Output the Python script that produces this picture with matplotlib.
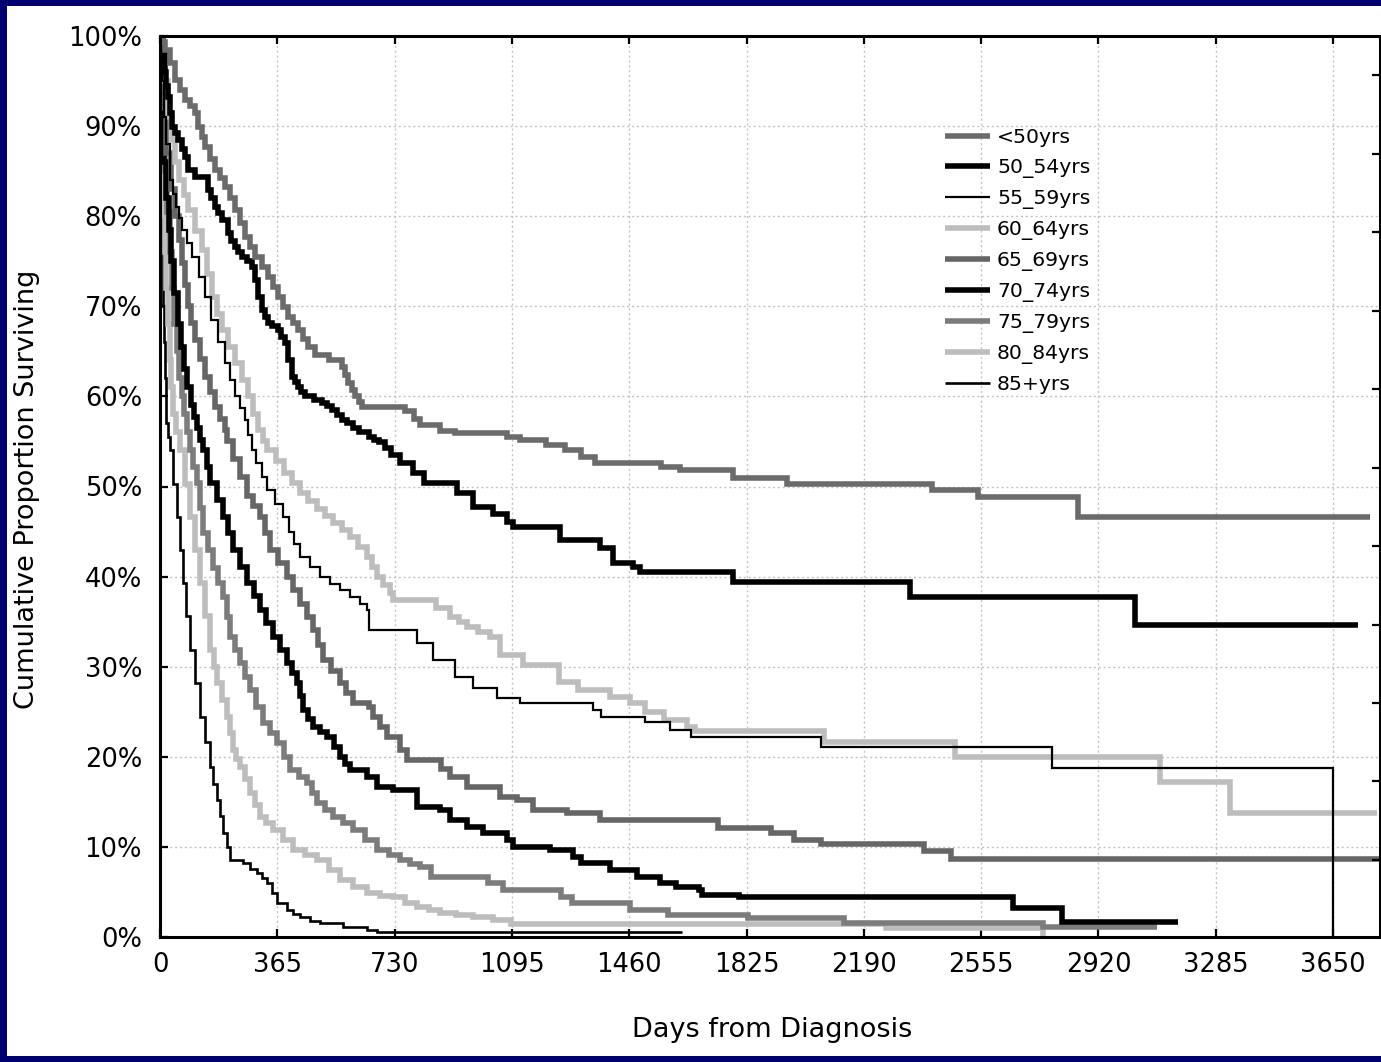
import matplotlib
matplotlib.use("Agg")
import matplotlib.pyplot as plt
from matplotlib.patches import Rectangle
from matplotlib.lines import Line2D

plt.rcParams['font.family'] = ['DejaVu Sans']

# ---------------- data (days, cumulative % surviving), step-post ----------------
labels = ["<50yrs", "50_54yrs", "55_59yrs", "60_64yrs", "65_69yrs",
          "70_74yrs", "75_79yrs", "80_84yrs", "85+yrs"]

lt50_days = [0, 8, 16, 30, 47, 62, 78, 94, 109, 118, 130, 140, 155, 171, 186, 202, 218, 233, 248, 264,
             280, 296, 316, 336, 352, 367, 382, 398, 414, 429, 445, 461, 482, 525, 566, 575, 585, 596,
             607, 618, 629, 762, 790, 809, 870, 918, 1080, 1120, 1200, 1260, 1310, 1353, 1560, 1618,
             1783, 1951, 2402, 2546, 2857, 3765]
lt50_pct = [100, 99.3, 98.5, 97, 95.1, 94, 92.9, 92.2, 91.5, 89.9, 88.8, 87.7, 86.4, 85.1, 84.2, 83.2,
            82, 80.7, 79.2, 77.7, 76.6, 75.5, 74.4, 73.3, 72.1, 71, 69.9, 68.8, 68.1, 67.4, 66.4, 65.5,
            64.6, 64, 63.3, 62.4, 61.5, 60.7, 60, 59.4, 58.8, 58.4, 57.5, 56.8, 56.2, 55.9, 55.5, 55.2,
            54.6, 54.0, 53.3, 52.6, 52.2, 51.8, 50.9, 50.3, 49.6, 48.8, 46.6, 46.6]

a50_days = [0, 8, 15, 20, 25, 31, 37, 47, 56, 67, 78, 87, 109, 149, 160, 171, 182, 193, 212, 222, 233,
            244, 255, 270, 286, 296, 305, 317, 326, 336, 350, 367, 378, 389, 398, 411, 420, 429, 440,
            451, 478, 504, 520, 535, 550, 566, 583, 600, 620, 650, 665, 680, 700, 720, 747, 788, 820,
            923, 975, 1037, 1079, 1099, 1245, 1369, 1410, 1473, 1494, 1783, 2334, 3034, 3728]
a50_pct = [100, 98, 96, 94.5, 93.2, 91.5, 89.9, 89.2, 88.5, 87.5, 86.6, 85.1, 84.4, 82.9, 82, 81, 80.3,
           79.6, 78.1, 77.3, 76.6, 76, 75.5, 75, 74.4, 72.9, 71, 69.6, 68.8, 68.1, 67.8, 67.4, 66.6,
           65.9, 64, 62.2, 61.6, 61, 60.5, 60, 59.6, 59.3, 58.9, 58.5, 57.9, 57.4, 57, 56.5, 56, 55.5,
           55.2, 54.9, 54.3, 53.5, 52.6, 51.5, 50.4, 49.3, 47.7, 47, 46.1, 45.5, 44.1, 43.2, 41.5,
           41.1, 40.5, 39.4, 37.7, 34.6, 34.6]

a55_days = [0, 6, 12, 20, 31, 40, 50, 60, 68, 84, 100, 120, 140, 160, 180, 202, 218, 233, 249, 264,
            275, 286, 300, 317, 333, 358, 383, 400, 418, 436, 467, 498, 530, 560, 591, 622, 644, 650,
            799, 850, 918, 975, 1048, 1120, 1348, 1372, 1509, 1587, 1652, 2057, 2776, 3650, 3650]
a55_pct = [100, 95, 91, 88, 84, 82.5, 81, 79.8, 78.5, 77, 75.5, 73.2, 71, 68.5, 66, 63.7, 61.8, 60,
           58.7, 57.4, 55.7, 54, 52.6, 51, 49.6, 48.1, 46.6, 45, 43.6, 42.2, 41.1, 40, 39.2, 38.5, 37.7,
           37, 36.3, 34.1, 32.6, 30.7, 28.9, 27.6, 26.5, 26, 25.2, 24.4, 23.9, 23, 22.2, 21.1, 18.8,
           0, 0]

a60_days = [0, 10, 25, 36, 47, 60, 75, 87, 109, 131, 146, 162, 178, 193, 213, 233, 254, 274, 290, 305,
            319, 333, 360, 385, 410, 436, 462, 487, 512, 538, 565, 591, 617, 644, 660, 675, 695, 716,
            725, 860, 902, 930, 955, 990, 1027, 1058, 1130, 1240, 1300, 1400, 1462, 1509, 1568, 1640,
            1665, 2067, 2474, 3112, 3330, 3787]
a60_pct = [100, 95, 91, 88.5, 86, 84, 82.3, 80.7, 78.4, 76.2, 73.6, 71, 69.2, 67.4, 65.5, 63.7, 61.8,
           60, 58.1, 56.3, 55.1, 54, 52.8, 51.5, 50.4, 49.3, 48.4, 47.5, 46.7, 46, 45.2, 44.4, 43.3,
           42.2, 41.1, 40, 39.1, 38.2, 37.4, 36.5, 35.5, 35, 34.4, 33.8, 33.3, 31.3, 30.2, 28.3, 27.4,
           26.6, 26, 25, 24.1, 23.3, 22.9, 21.6, 20, 17.2, 13.8, 13.8]

a65_days = [0, 8, 20, 35, 47, 58, 68, 78, 87, 98, 109, 124, 140, 156, 171, 187, 202, 208, 228, 249,
            270, 290, 311, 326, 342, 368, 395, 415, 436, 456, 476, 492, 507, 533, 560, 580, 601, 650,
            663, 685, 706, 747, 769, 875, 902, 955, 1058, 1111, 1161, 1266, 1369, 1736, 1901, 1973,
            2057, 2377, 2461, 3800]
a65_pct = [100, 92, 87, 83, 80, 77.4, 74.8, 72.4, 70, 68.1, 66.3, 64.2, 62.2, 60.5, 58.8, 57.5, 56.3,
           55, 53, 51, 49, 47.8, 46.6, 44.8, 43, 41.5, 40, 38.5, 37, 35.5, 34.1, 32.4, 30.7, 29.5, 28.2,
           27.1, 26, 25.5, 24.4, 23.3, 22.2, 20.8, 19.6, 18.7, 17.8, 16.6, 15.5, 15.2, 14.1, 13.8, 13,
           12.1, 11.5, 10.8, 10.3, 9.5, 8.7, 8.7]

a70_days = [0, 4, 8, 14, 20, 28, 35, 45, 55, 65, 75, 85, 95, 105, 115, 125, 134, 145, 156, 176, 196,
            212, 227, 249, 271, 291, 311, 331, 352, 373, 395, 411, 426, 436, 445, 461, 476, 498, 520,
            540, 560, 576, 591, 644, 675, 725, 800, 871, 902, 955, 1005, 1080, 1098, 1214, 1285, 1310,
            1400, 1484, 1556, 1606, 1677, 1687, 1802, 2654, 2807, 3168]
a70_pct = [100, 95, 90, 86, 82, 78.5, 75, 71.5, 68, 65.5, 63, 61, 59, 57.7, 56.5, 55.2, 54, 52.2, 50.4,
           48.5, 46.6, 44.8, 43, 41.1, 39.3, 37.8, 36.3, 34.8, 33.3, 31.8, 30.4, 29.3, 28.2, 26.7, 25.2,
           24.2, 23.3, 22.7, 22.2, 21.1, 20, 19.2, 18.5, 17.8, 16.6, 16.3, 14.4, 14.1, 13, 12.2, 11.5,
           10.8, 10, 9.7, 8.9, 8.2, 7.4, 6.7, 6, 5.6, 5.2, 4.7, 4.4, 3.2, 1.7, 1.7]

a75_days = [0, 5, 10, 15, 22, 30, 37, 45, 52, 60, 67, 75, 84, 93, 104, 115, 124, 134, 150, 165, 180,
            196, 207, 218, 233, 249, 264, 280, 300, 320, 342, 364, 385, 405, 431, 457, 473, 489, 514,
            538, 570, 601, 638, 675, 711, 747, 778, 809, 843, 1021, 1067, 1248, 1282, 1462, 1581, 1830,
            2128, 2748, 3102]
a75_pct = [100, 93, 89, 85, 80.5, 76, 72, 68, 65, 62, 60, 58, 56, 54, 52.2, 50.4, 47.6, 44.8, 42.9, 41,
           39.3, 37.7, 35.5, 33.3, 31.8, 30.4, 28.9, 27.4, 25.5, 23.7, 22.6, 21.5, 20, 18.5, 17.8, 17.1,
           16, 14.9, 14.1, 13.3, 12.6, 11.9, 10.8, 9.7, 9.1, 8.5, 8.1, 7.8, 6.7, 6, 5.2, 4.4, 3.8, 3,
           2.4, 2.1, 1.5, 1.1, 1.1]

a80_days = [0, 3, 5, 8, 12, 16, 20, 25, 30, 35, 40, 51, 62, 77, 93, 108, 124, 140, 156, 167, 177, 193,
            208, 218, 227, 238, 249, 264, 280, 296, 311, 331, 352, 383, 414, 451, 489, 525, 560, 602,
            644, 685, 725, 762, 800, 836, 871, 920, 974, 1036, 1092, 2259, 2748, 2748]
a80_pct = [100, 95, 90, 85, 80, 76, 72, 68, 64, 61, 58, 56, 54, 50.3, 46.6, 43, 39.3, 35.6, 31.9, 30,
           28.2, 26.3, 24.4, 22.6, 20.8, 19.8, 18.9, 17.5, 16, 14.6, 13.3, 12.6, 11.9, 10.8, 9.7, 9.1,
           8.5, 7.4, 6.3, 5.6, 4.9, 4.6, 4.4, 3.8, 3.3, 3, 2.7, 2.4, 2.2, 1.9, 1.4, 1.0, 1.0, 0]

a85_days = [0, 2, 3, 5, 6, 8, 10, 13, 15, 18, 20, 26, 31, 42, 53, 62, 72, 82, 93, 108, 124, 140, 156,
            166, 177, 186, 196, 207, 218, 258, 280, 302, 318, 333, 348, 364, 395, 415, 436, 467, 498,
            570, 644, 675, 1624]
a85_pct = [100, 95, 90, 85, 80, 75, 70, 66, 62, 59.5, 57, 55.5, 54, 50.3, 46.6, 43, 39.3, 35.6, 31.9,
           28.2, 24.4, 21.6, 18.9, 17, 15.2, 13.4, 11.5, 10, 8.5, 8.2, 7.6, 7.1, 6.5, 6, 4.9, 3.8, 3,
           2.6, 2.2, 1.8, 1.5, 1.1, 0.8, 0.5, 0.5]

series_days = [lt50_days, a50_days, a55_days, a60_days, a65_days, a70_days, a75_days, a80_days, a85_days]
series_pct = [lt50_pct, a50_pct, a55_pct, a60_pct, a65_pct, a70_pct, a75_pct, a80_pct, a85_pct]

x_ticks = [0, 365, 730, 1095, 1460, 1825, 2190, 2555, 2920, 3285, 3650]
y_ticks = [0, 10, 20, 30, 40, 50, 60, 70, 80, 90, 100]

# ---------------- styles ----------------
colors = ["#6b6b6b", "#000000", "#000000", "#bdbdbd", "#666666",
          "#000000", "#7c7c7c", "#bdbdbd", "#000000"]
widths = [4.0, 4.0, 1.6, 4.0, 4.0, 4.0, 4.0, 4.0, 1.9]

W, H, DPI = 1381, 1062, 100
fig = plt.figure(figsize=(W / DPI, H / DPI), dpi=DPI)
fig.patch.set_facecolor("#00006e")
fig.patches.append(Rectangle((7 / W, 6 / H), 1 - 7 / W, 1 - 12 / H, transform=fig.transFigure,
                             facecolor="white", edgecolor="none", zorder=-10))

L, R, T, B = 160, 1380, 36, 937
ax = fig.add_axes([L / W, (H - B) / H, (R - L) / W, (B - T) / H])
ax.set_facecolor("white")

order = [8, 7, 6, 5, 4, 3, 2, 1, 0]
for i in order:
    ax.plot(series_days[i], series_pct[i], drawstyle="steps-post", color=colors[i],
            lw=widths[i], solid_capstyle="butt", solid_joinstyle="miter", zorder=3 + (9 - i) * 0.01)

ax.set_xlim(0, 3796)
ax.set_ylim(0, 100)
ax.set_xticks(x_ticks)
ax.set_xticklabels([str(v) for v in x_ticks])
ax.set_yticks(y_ticks)
ax.set_yticklabels([f"{v}%" for v in y_ticks])
ax.grid(True, color="#c4c4c4", linestyle=(0, (1.5, 2.0)), linewidth=1.0, zorder=1)
ax.set_axisbelow(True)

for s in ax.spines.values():
    s.set_linewidth(2.2)
    s.set_color("black")
    s.set_zorder(5)

ax.tick_params(axis="both", which="major", direction="in", length=6, width=1.6,
               labelsize=18.5, colors="black")
ax.tick_params(axis="x", top=True, labeltop=False, pad=11)
ax.tick_params(axis="y", right=False, pad=13)

# right side tick marks (independent scale in the original)
axr = ax.twinx()
axr.set_ylim(0, 100)
axr.set_yticks([8.55 + 8.71 * k for k in range(11)])
axr.tick_params(axis="y", direction="in", length=6, width=1.6, labelright=False)
for s in axr.spines.values():
    s.set_visible(False)

fig.text(772 / W, 1 - 1030 / H, "Days from Diagnosis", ha="center", va="center", fontsize=19.5)
fig.text(27 / W, 1 - 489 / H, "Cumulative Proportion Surviving", ha="center", va="center",
         rotation=90, fontsize=19.5)

handles = [Line2D([], [], color=colors[i], lw=widths[i], solid_capstyle="butt") for i in range(9)]
leg = ax.legend(handles, labels, loc="upper left", bbox_to_anchor=((945 - L) / (R - L), (B - 128) / (B - T)),
                frameon=False, fontsize=14.7, handlelength=2.2, handletextpad=0.35,
                labelspacing=0.54, borderpad=0, borderaxespad=0)

fig.savefig("out.png", dpi=DPI, facecolor=fig.get_facecolor())
